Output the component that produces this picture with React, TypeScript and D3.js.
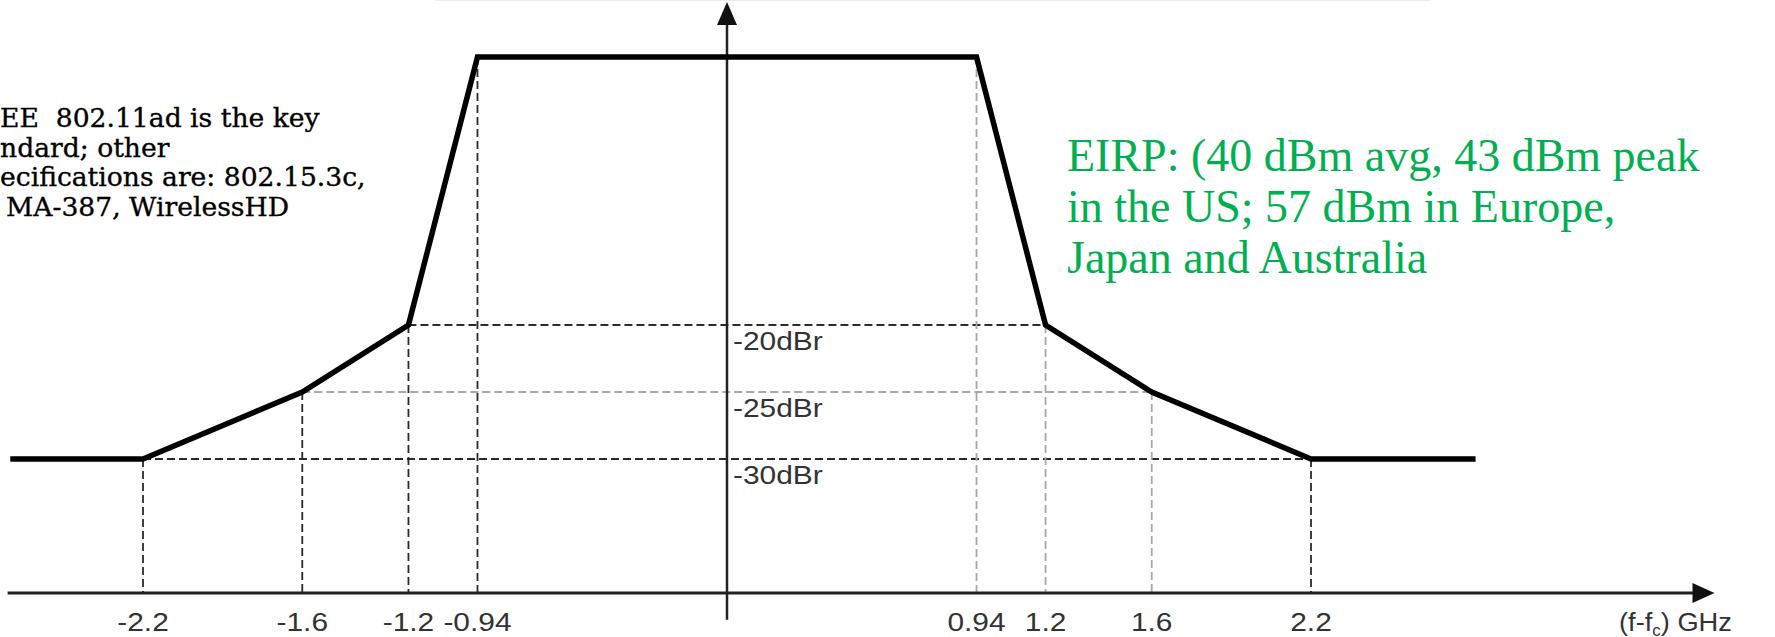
import { useEffect, useRef } from 'react';
import * as d3 from 'd3';

// spectrum mask break points (GHz offset from carrier, dBr)
const freqs = [-2.7, -2.2, -1.6, -1.2, -0.94, 0.94, 1.2, 1.6, 2.2, 2.82];
const levels = [-30, -30, -25, -20, 0, 0, -20, -25, -30, -30];

const tickValues = [-2.2, -1.6, -1.2, -0.94, 0.94, 1.2, 1.6, 2.2];
const tickLabels = ['-2.2', '-1.6', '-1.2', '-0.94', '0.94', '1.2', '1.6', '2.2'];

const refLevels = [-20, -25, -30];
const refLabels = ['-20dBr', '-25dBr', '-30dBr'];
const refSpans = [1.2, 1.6, 2.2];

const noteLines = ['IEEE  802.11ad is the key', 'standard; other', 'specifications are: 802.15.3c,', 'ECMA-387, WirelessHD'];
const eirpLines = ['EIRP: (40 dBm avg, 43 dBm peak', 'in the US; 57 dBm in Europe,', 'Japan and Australia'];

export default function App() {
  const ref = useRef<SVGSVGElement>(null);

  useEffect(() => {
    if (!ref.current) return;
    const svg = d3.select(ref.current);
    svg.selectAll('*').remove();

    const x = d3.scaleLinear().domain([-2.2, 2.2]).range([143, 1311]);
    const y = d3.scaleLinear().domain([-30, -20]).range([459, 325]);
    const floor = -40;

    const dark = '#2a2a2a';
    const light = '#a8a8a8';

    // faint frame edge at the top of the scanned figure
    svg.append('line')
      .attr('x1', x(-1.1)).attr('x2', x(2.65))
      .attr('y1', 0.5).attr('y2', 0.5)
      .attr('stroke', '#ececec').attr('stroke-width', 1);

    // horizontal reference levels
    refLevels.forEach((lv, i) => {
      svg.append('line')
        .attr('x1', x(-refSpans[i])).attr('x2', x(refSpans[i]))
        .attr('y1', y(lv)).attr('y2', y(lv))
        .attr('stroke', lv === -25 ? light : dark)
        .attr('stroke-width', 2)
        .attr('stroke-dasharray', '8,4');
    });

    // vertical guides from break points down to the axis
    freqs.slice(1, -1).forEach((f, i) => {
      const faint = f > 0 && f < 2;
      svg.append('line')
        .attr('x1', x(f)).attr('x2', x(f))
        .attr('y1', y(levels[i + 1])).attr('y2', y(floor))
        .attr('stroke', faint ? light : dark)
        .attr('stroke-width', 1.8)
        .attr('stroke-dasharray', '8,4');
    });

    // axes
    svg.append('line')
      .attr('x1', x(-2.71)).attr('x2', x(3.68))
      .attr('y1', y(floor)).attr('y2', y(floor))
      .attr('stroke', '#222').attr('stroke-width', 3);
    const xt = x(3.72);
    svg.append('path')
      .attr('d', `M${xt},${y(floor)} L${xt - 22},${y(floor) - 10} L${xt - 22},${y(floor) + 10} Z`)
      .attr('fill', '#111');

    svg.append('line')
      .attr('x1', x(0)).attr('x2', x(0))
      .attr('y1', y(3.5)).attr('y2', y(-42))
      .attr('stroke', '#222').attr('stroke-width', 2.5);
    const yt = y(4.1);
    svg.append('path')
      .attr('d', `M${x(0)},${yt} L${x(0) - 10},${yt + 23} L${x(0) + 10},${yt + 23} Z`)
      .attr('fill', '#111');

    // mask
    const pts = freqs.map((f, i) => [f, levels[i]] as [number, number]);
    svg.append('path')
      .datum(pts)
      .attr('fill', 'none')
      .attr('stroke', '#000')
      .attr('stroke-width', 5.5)
      .attr('stroke-linejoin', 'miter')
      .attr('d', d3.line<[number, number]>().x((d) => x(d[0])).y((d) => y(d[1])));

    // tick labels
    tickValues.forEach((t, i) => {
      svg.append('text')
        .attr('transform', `translate(${x(t)},${y(floor) + 38}) scale(1.15,1)`)
        .attr('text-anchor', 'middle')
        .attr('font-family', 'Liberation Sans, Arial, sans-serif')
        .attr('font-size', 26)
        .attr('fill', '#333')
        .text(tickLabels[i]);
    });

    const unit = svg.append('text')
      .attr('transform', `translate(1619,${y(floor) + 38}) scale(1.05,1)`)
      .attr('font-family', 'Liberation Sans, Arial, sans-serif')
      .attr('font-size', 26)
      .attr('fill', '#333');
    unit.append('tspan').text('(f-f');
    unit.append('tspan').attr('font-size', 16).attr('dy', 5).text('c');
    unit.append('tspan').attr('dy', -5).text(') GHz');

    // dBr labels
    refLevels.forEach((lv, i) => {
      svg.append('text')
        .attr('transform', `translate(${x(0) + 6},${y(lv) + 25}) scale(1.15,1)`)
        .attr('font-family', 'Liberation Sans, Arial, sans-serif')
        .attr('font-size', 26)
        .attr('fill', '#333')
        .text(refLabels[i]);
    });

    // left note, clipped by the left edge of the slide
    const cut = [2, 3, 2, 2];
    const startX = [0, 0, 0, 6];
    noteLines.forEach((s, i) => {
      const g = svg.append('g')
        .attr('font-family', 'DejaVu Serif, serif')
        .attr('font-size', 26.6)
        .attr('fill', '#000')
        .attr('stroke', '#000')
        .attr('stroke-width', 0.35);
      const yy = 127 + i * 29.7;
      g.append('text').attr('x', Math.min(startX[i], 0) - (startX[i] > 0 ? 1 : 0)).attr('y', yy)
        .attr('text-anchor', 'end').text(s.slice(0, cut[i]));
      g.append('text').attr('x', startX[i]).attr('y', yy)
        .style('white-space', 'pre').text(s.slice(cut[i]));
    });

    eirpLines.forEach((s, i) => {
      svg.append('text')
        .attr('x', 1067).attr('y', 171 + i * 51)
        .attr('font-family', 'Liberation Serif, serif')
        .attr('font-size', 46)
        .attr('fill', '#00B050')
        .text(s);
    });
  }, []);

  return (
    <svg
      ref={ref}
      width={1775}
      height={637}
      style={{ position: 'absolute', left: 0, top: 0, background: '#fff' }}
    />
  );
}
